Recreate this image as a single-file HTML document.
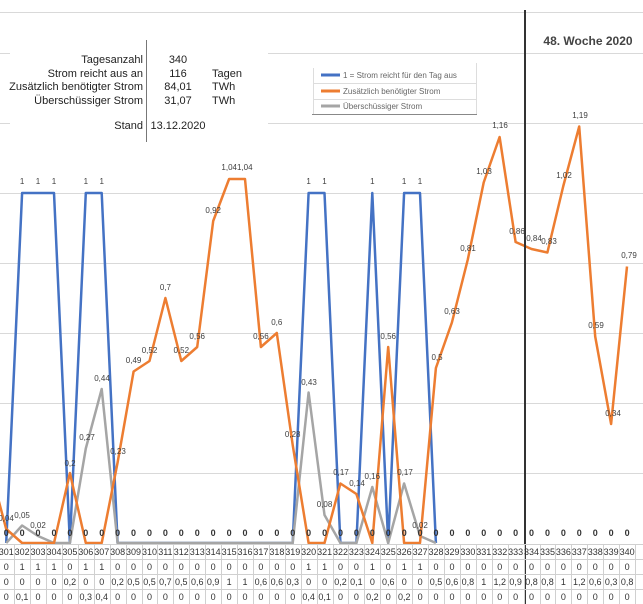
<!DOCTYPE html>
<html><head><meta charset="utf-8"><style>
html,body{margin:0;padding:0;background:#fff;}
svg{display:block;font-family:"Liberation Sans",sans-serif;}
</style></head><body>
<svg width="643" height="604" viewBox="0 0 643 604" xmlns="http://www.w3.org/2000/svg">
<g stroke="#d9d9d9" stroke-width="1">
<line x1="0" y1="12.5" x2="643" y2="12.5"/>
<line x1="0" y1="53.5" x2="10" y2="53.5"/><line x1="268" y1="53.5" x2="643" y2="53.5"/>
<line x1="0" y1="123.5" x2="10" y2="123.5"/><line x1="268" y1="123.5" x2="643" y2="123.5"/>
<line x1="0" y1="193.5" x2="643" y2="193.5"/>
<line x1="0" y1="263.5" x2="643" y2="263.5"/>
<line x1="0" y1="333.5" x2="643" y2="333.5"/>
<line x1="0" y1="403.5" x2="643" y2="403.5"/>
<line x1="0" y1="473.5" x2="643" y2="473.5"/>
</g>
<!-- stats -->
<line x1="146.5" y1="40" x2="146.5" y2="142" stroke="#777" stroke-width="1"/>
<g font-size="11" fill="#222">
<g text-anchor="end">
<text x="143" y="63">Tagesanzahl</text>
<text x="143" y="77">Strom reicht aus an</text>
<text x="143" y="90">Zusätzlich benötigter Strom</text>
<text x="143" y="104">Überschüssiger Strom</text>
<text x="143" y="129">Stand</text>
</g>
<g text-anchor="middle">
<text x="178" y="63">340</text>
<text x="178" y="77">116</text>
<text x="178" y="90">84,01</text>
<text x="178" y="104">31,07</text>
<text x="178" y="129">13.12.2020</text>
</g>
<text x="212" y="77">Tagen</text>
<text x="212" y="90">TWh</text>
<text x="212" y="104">TWh</text>
</g>
<!-- legend -->
<g>
<line x1="312" y1="114.5" x2="477" y2="114.5" stroke="#888"/>
<line x1="476.5" y1="63" x2="476.5" y2="114" stroke="#ddd"/>
<line x1="313" y1="83.5" x2="476" y2="83.5" stroke="#ddd"/>
<line x1="313" y1="99.5" x2="476" y2="99.5" stroke="#ddd"/>
<line x1="313.5" y1="68" x2="313.5" y2="114" stroke="#ddd"/>
<line x1="321" y1="75" x2="340" y2="75" stroke="#4472C4" stroke-width="3"/>
<line x1="321" y1="91" x2="340" y2="91" stroke="#ED7D31" stroke-width="3"/>
<line x1="321" y1="106" x2="340" y2="106" stroke="#A5A5A5" stroke-width="3"/>
<g font-size="8" fill="#666">
<text x="343" y="78">1 = Strom reicht für den Tag aus</text>
<text x="343" y="94">Zusätzlich benötigter Strom</text>
<text x="343" y="109">Überschüssiger Strom</text>
</g>
</g>
<text x="588" y="45" text-anchor="middle" font-size="12" font-weight="bold" fill="#444">48. Woche 2020</text>
<!-- series -->
<g fill="none" stroke-width="2.5" stroke-linejoin="round">
<polyline stroke="#4472C4" points="6.2,543 22.1,193 38,193 54,193 69.9,543 85.8,193 101.7,193 117.6,543 133.6,543 292.7,543 308.6,193 324.5,193 340.4,543 356.4,543 372.3,193 388.2,543 404.1,193 420,193 435.9,543"/>
<polyline stroke="#A5A5A5" points="6.2,543 22.1,525.5 38,536 54,543 69.9,543 85.8,448.5 101.7,389 117.6,543 292.7,543 308.6,392.5 324.5,515 340.4,543 356.4,543 372.3,487 388.2,543 404.1,483.5 420,536 435.9,543"/>
<polyline stroke="#ED7D31" points="-9.7,469 6.2,529 22.1,543 38,543 54,543 69.9,473 85.8,543 101.7,543 117.6,462.5 133.6,371.5 149.5,361 165.4,298 181.3,361 197.2,347 213.2,221 229.1,179 245,179 260.9,347 276.8,333 292.7,445 308.6,543 324.5,543 340.4,483.5 356.4,494 372.3,543 388.2,347 404.1,543 420,543 435.9,368 451.9,322.5 467.8,259.5 483.7,182.5 499.6,137 515.6,242 531.5,249 547.4,252.5 563.3,186 579.2,126.5 595.2,336.5 611.1,424 627,266.5"/>
</g>
<line x1="525" y1="10" x2="525" y2="604" stroke="#333" stroke-width="2"/>
<!-- data labels -->
<g font-size="8" fill="#404040" text-anchor="middle">
<text x="22.1" y="184">1</text><text x="38" y="184">1</text><text x="54" y="184">1</text>
<text x="85.8" y="184">1</text><text x="101.7" y="184">1</text>
<text x="308.6" y="184">1</text><text x="324.5" y="184">1</text><text x="372.3" y="184">1</text>
<text x="404.1" y="184">1</text><text x="420" y="184">1</text>
<text x="6" y="521">0,04</text><text x="22.1" y="518">0,05</text><text x="38" y="528">0,02</text>
<text x="87" y="440">0,27</text><text x="102" y="381">0,44</text><text x="70" y="466">0,2</text><text x="118" y="454">0,23</text>
<text x="133.6" y="363">0,49</text><text x="149.5" y="353">0,52</text><text x="165.4" y="290">0,7</text><text x="181.3" y="353">0,52</text>
<text x="197.2" y="339">0,56</text><text x="213.2" y="213">0,92</text><text x="237" y="170">1,041,04</text>
<text x="260.9" y="339">0,56</text><text x="276.8" y="325">0,6</text><text x="292.7" y="437">0,28</text>
<text x="309" y="385">0,43</text><text x="324.5" y="507">0,08</text><text x="341" y="475">0,17</text><text x="357" y="486">0,14</text>
<text x="372.3" y="479">0,16</text><text x="388.2" y="339">0,56</text><text x="405" y="475">0,17</text><text x="420" y="528">0,02</text>
<text x="437" y="360">0,5</text><text x="452" y="314">0,63</text><text x="468" y="251">0,81</text><text x="484" y="174">1,03</text>
<text x="500" y="128">1,16</text><text x="517" y="234">0,86</text><text x="534" y="241">0,84</text><text x="549" y="244">0,83</text>
<text x="564" y="178">1,02</text><text x="580" y="118">1,19</text><text x="596" y="328">0,59</text><text x="613" y="416">0,34</text><text x="629" y="258">0,79</text>
</g>
<g font-size="9" font-weight="bold" fill="#333" text-anchor="middle" id="zeros"></g>
<!-- table -->
<g stroke="#d0d0d0" stroke-width="1" id="grid">
<line x1="0" y1="544.5" x2="643" y2="544.5"/>
<line x1="0" y1="559.5" x2="643" y2="559.5"/>
<line x1="0" y1="574.5" x2="643" y2="574.5"/>
<line x1="0" y1="589.5" x2="643" y2="589.5"/>
</g>
<g font-size="9" fill="#333" text-anchor="middle" id="tbl"></g>
<script>
var ns="http://www.w3.org/2000/svg";
var r1=[0,1,1,1,0,1,1,0,0,0,0,0,0,0,0,0,0,0,0,1,1,0,0,1,0,1,1,0,0,0,0,0,0,0,0,0,0,0,0,0];
var r2=["0","0","0","0","0,2","0","0","0,2","0,5","0,5","0,7","0,5","0,6","0,9","1","1","0,6","0,6","0,3","0","0","0,2","0,1","0","0,6","0","0","0,5","0,6","0,8","1","1,2","0,9","0,8","0,8","1","1,2","0,6","0,3","0,8"];
var r3=["0","0,1","0","0","0","0,3","0,4","0","0","0","0","0","0","0","0","0","0","0","0","0,4","0,1","0","0","0,2","0","0,2","0","0","0","0","0","0","0","0","0","0","0","0","0","0"];
var g=document.getElementById("tbl"),z=document.getElementById("zeros"),gr=document.getElementById("grid");
function t(p,x,y,s){var e=document.createElementNS(ns,"text");e.setAttribute("x",x);e.setAttribute("y",y);e.textContent=s;p.appendChild(e);}
for(var i=0;i<40;i++){var x=6.2+15.92*i;
t(g,x,555,String(301+i));t(g,x,570,String(r1[i]));t(g,x,585,r2[i]);t(g,x,600,r3[i]);t(z,x,536,"0");
var l=document.createElementNS(ns,"line");var lx=Math.round(x+7.96)+0.5;l.setAttribute("x1",lx);l.setAttribute("x2",lx);l.setAttribute("y1",544);l.setAttribute("y2",604);gr.appendChild(l);}
</script>
</svg>
</body></html>
